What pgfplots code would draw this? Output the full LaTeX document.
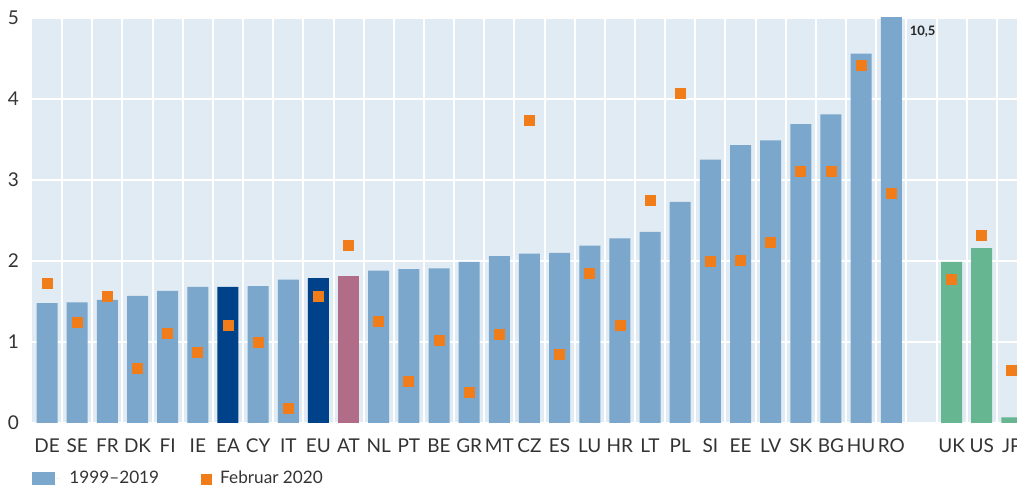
\documentclass[border=0pt]{standalone}
\usepackage{pgfplots}
\pgfplotsset{compat=1.18}
\usepackage{fontspec}
\setmainfont{Lato}

\definecolor{bgblue}{HTML}{E1EBF4}
\definecolor{barblue}{HTML}{7AA7CB}
\definecolor{darkblue}{HTML}{00428A}
\definecolor{mauve}{HTML}{B16C88}
\definecolor{green}{HTML}{67B692}
\definecolor{orange}{HTML}{F07D1A}
\definecolor{txt}{HTML}{333333}

\begin{document}
\begin{tikzpicture}
\begin{axis}[
  scale only axis, width=492.5pt, height=202.5pt,
  xmin=-0.5, xmax=32.17, ymin=0, ymax=5,
  axis line style={draw=none},
  major tick length=0pt, minor tick length=0pt,
  axis background/.style={fill=bgblue},
  ytick={0,1,2,3,4,5},
  xtick={0,1,2,3,4,5,6,7,8,9,10,11,12,13,14,15,16,17,18,19,20,21,22,23,24,25,26,27,28,30,31,32},
  xticklabels={DE,SE,FR,DK,FI,IE,EA,CY,IT,EU,AT,NL,PT,BE,GR,MT,CZ,ES,LU,HR,LT,PL,SI,EE,LV,SK,BG,HU,RO,UK,US,JP},
  minor xtick={0.5,1.5,...,31.5},
  ymajorgrids, xminorgrids,
  major grid style={white, line width=1pt},
  minor grid style={white, line width=1pt},
  tick label style={font=\fontsize{9.5}{11}\selectfont, text=txt},
  /pgf/number format/assume math mode=true,
  xticklabel style={yshift=-4.5pt},
  yticklabel style={xshift=-3pt},
  legend columns=2,
  legend style={at={(rel axis cs:0,0)}, anchor=west, yshift=-28pt,
    draw=none, fill=none, inner sep=0pt,
    font=\fontsize{8.6}{10}\selectfont, text=txt,
    /tikz/every odd column/.append style={column sep=2.5pt},
    /tikz/every even column/.append style={column sep=19pt}},
]
\coordinate (sw) at (rel axis cs:0,0);
\coordinate (ne) at (rel axis cs:1,1);

% 1999-2019, light blue countries
\addplot[ybar, bar width=10.5pt, bar shift=0pt, fill=barblue, draw=none,
  legend image code/.code={\fill[barblue] (0pt,-3.5pt) rectangle (11.5pt,3.5pt);
    \path (0pt,0pt) -- (14pt,0pt);}]
coordinates {
 (0,1.48)(1,1.49)(2,1.52)(3,1.57)(4,1.63)(5,1.68)(7,1.69)(8,1.77)
 (11,1.88)(12,1.90)(13,1.91)(14,1.99)(15,2.06)(16,2.09)(17,2.10)(18,2.19)
 (19,2.28)(20,2.36)(21,2.73)(22,3.25)(23,3.43)(24,3.49)(25,3.69)(26,3.81)
 (27,4.56)(28,10.5)
};
\addlegendentry{1999--2019}
\addplot[ybar, bar width=10.5pt, bar shift=0pt, fill=darkblue, draw=none, forget plot]
coordinates {(6,1.68)(9,1.79)};
\addplot[ybar, bar width=10.5pt, bar shift=0pt, fill=mauve, draw=none, forget plot]
coordinates {(10,1.81)};
\addplot[ybar, bar width=10.5pt, bar shift=0pt, fill=green, draw=none, forget plot]
coordinates {(30,1.99)(31,2.16)(32,0.07)};

% Februar 2020
\addplot[only marks, mark=square*, mark size=2.5pt, color=orange]
coordinates {
 (0,1.72)(1,1.24)(2,1.56)(3,0.67)(4,1.11)(5,0.87)(6,1.20)(7,1.00)(8,0.18)
 (9,1.56)(10,2.19)(11,1.25)(12,0.51)(13,1.02)(14,0.38)(15,1.09)(16,3.74)
 (17,0.85)(18,1.85)(19,1.20)(20,2.75)(21,4.07)(22,1.99)(23,2.01)(24,2.23)
 (25,3.11)(26,3.10)(27,4.42)(28,2.84)(30,1.77)(31,2.32)(32,0.65)
};
\addlegendentry{Februar 2020}

\node[anchor=west, inner sep=0pt, text=black!85, font=\bfseries\fontsize{6.5}{8}\selectfont]
  at (axis cs:28.6,4.83) {10,5};
\end{axis}
\pgfresetboundingbox
\useasboundingbox ([xshift=-16pt,yshift=-31pt]sw) rectangle ([yshift=9pt]ne);
\end{tikzpicture}
\end{document}
